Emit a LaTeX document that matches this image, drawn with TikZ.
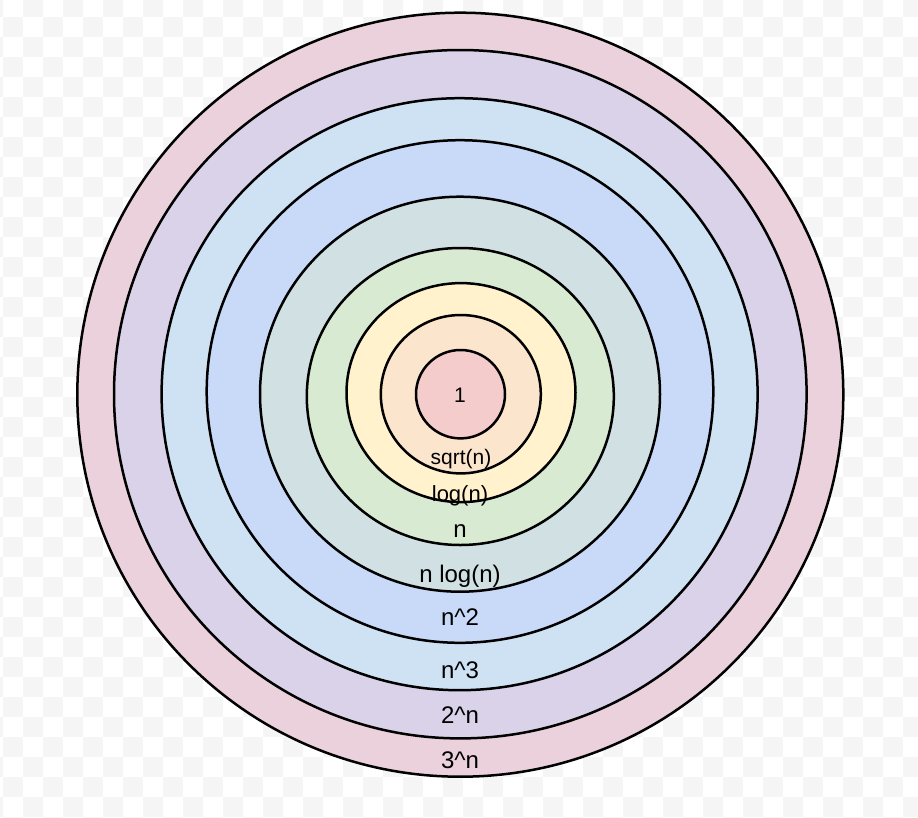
\documentclass[tikz,border=0pt]{standalone}
\usepackage{fontspec}
\setmainfont{Liberation Sans}
\usetikzlibrary{shapes.geometric}
\definecolor{cA}{HTML}{F4CCCC}
\definecolor{cB}{HTML}{FCE5CD}
\definecolor{cC}{HTML}{FFF2CC}
\definecolor{cD}{HTML}{D9EAD3}
\definecolor{cE}{HTML}{D0E0E3}
\definecolor{cF}{HTML}{C9DAF8}
\definecolor{cG}{HTML}{CFE2F3}
\definecolor{cH}{HTML}{D9D2E9}
\definecolor{cI}{HTML}{EAD1DC}
\definecolor{checkgray}{RGB}{245,245,245}
\newcommand{\sizetwo}{\fontsize{21}{25}\selectfont}
\newcommand{\sizethree}{\fontsize{22}{26}\selectfont}
\newcommand{\sizemain}{\fontsize{24}{28}\selectfont}
\tikzset{
  ring/.style={ellipse, draw=black, line width=2.5pt, inner sep=0pt, outer sep=0pt},
  lbl/.style={anchor=base, inner sep=0pt, text=black, font=\sizemain},
}
\begin{document}
\begin{tikzpicture}[x=1pt,y=-1pt]
\useasboundingbox (0,0) rectangle (918,817);
\fill[white] (0,0) rectangle (918,817);
\begin{scope}
\clip (0,0) rectangle (918,817);
\foreach \r in {0,...,41}{
  \foreach \c in {0,...,46}{
    \pgfmathtruncatemacro\mypar{mod(\r+\c,2)}
    \ifnum\mypar=0
      \fill[checkgray] (-16.7+20*\c,-3.3+20*\r) rectangle ++(20,20);
    \fi
  }
}
\end{scope}
\node[ring, fill=cI, minimum width=766pt, minimum height=764pt] (r9) at (460.3,394.7) {};
\node[ring, fill=cH, minimum width=692.6pt, minimum height=688.4pt] (r8) at (460.3,394.2) {};
\node[ring, fill=cG, minimum width=596pt, minimum height=592pt] (r7) at (459.6,394.2) {};
\node[ring, fill=cF, minimum width=506.6pt, minimum height=502.6pt] (r6) at (460,391.5) {};
\node[ring, fill=cE, minimum width=400pt, minimum height=395pt] (r5) at (460,394.2) {};
\node[ring, fill=cD, minimum width=307pt, minimum height=297pt] (r4) at (460.3,396.5) {};
\node[ring, fill=cC, minimum width=229pt, minimum height=219pt] (r3) at (461,392.6) {};
\node[ring, fill=cB, minimum width=160pt, minimum height=158.4pt] (r2) at (460.8,394.2) {};
\node[ring, fill=cA, minimum width=89pt, minimum height=88.4pt] (r1) at (460.5,394.2) {};
\node[lbl, font=\fontsize{21}{25}\selectfont] (t1) at (460,402.5) {1};
\node[lbl] (t2) at (461,464) {\sizetwo{}sqrt(n)};
\node[lbl] (t3) at (460,501) {\sizethree{}log(n)};
\node[lbl] (t4) at (460,537) {n};
\node[lbl] (t5) at (460,582) {n log(n)};
\node[lbl] (t6) at (460,625) {n\textasciicircum 2};
\node[lbl] (t7) at (460,678) {n\textasciicircum 3};
\node[lbl] (t8) at (460,723.5) {2\textasciicircum n};
\node[lbl] (t9) at (460,768) {3\textasciicircum n};
\end{tikzpicture}
\end{document}
